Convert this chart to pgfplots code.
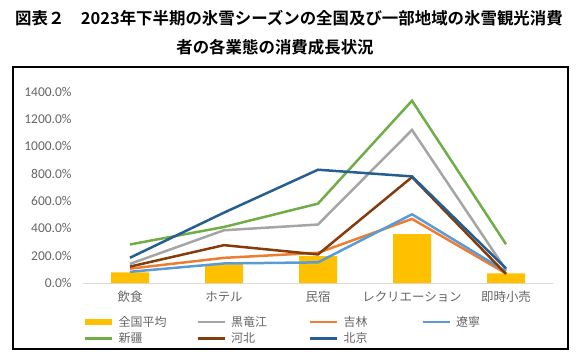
\documentclass[border=0pt]{standalone}
\usepackage{pgfplots}
\pgfplotsset{compat=1.18}
\usepackage{fontspec}
\setmainfont{Carlito}
\newfontfamily\cjk{Noto Sans CJK JP}
\newfontfamily\cjkb{Noto Sans CJK JP Bold}
\definecolor{cYellow}{HTML}{FFC000}
\definecolor{cGray}{HTML}{A5A5A5}
\definecolor{cOrange}{HTML}{ED7D31}
\definecolor{cLBlue}{HTML}{5B9BD5}
\definecolor{cGreen}{HTML}{70AD47}
\definecolor{cBrown}{HTML}{843C0C}
\definecolor{cDBlue}{HTML}{255E91}
\definecolor{tickgray}{HTML}{666666}
\definecolor{basegray}{HTML}{D9D9D9}
\begin{document}
\begin{tikzpicture}[x=1bp,y=1bp]
\path[use as bounding box] (-83,-79) rectangle (494,283);
\begin{axis}[
  at={(0,0)}, anchor=south west,
  scale only axis, width=470bp, height=191.3bp,
  xmin=-0.5, xmax=4.5, ymin=0, ymax=1400,
  clip=false,
  axis line style={draw=none},
  major tick style={draw=none},
  xtick={0,1,2,3,4},
  xticklabels={飲食,ホテル,民宿,レクリエーション,即時小売},
  xticklabel style={font=\cjk\fontsize{12.5}{12.5}\selectfont, text=tickgray, yshift=-5bp},
  ytick={0,200,...,1400},
  yticklabel={\pgfmathprintnumber[fixed,fixed zerofill,precision=1,1000 sep={},assume math mode=true]{\tick}\%},
  yticklabel style={font=\fontsize{13.5}{13.5}\selectfont, text=tickgray, anchor=east, xshift=-8bp},
  legend columns=4,
  legend cell align=left,
  legend style={draw=none, fill=none, at={(0,0)}, anchor=north west, xshift=-2bp, yshift=-29bp,
    font=\cjk\fontsize{12}{12}\selectfont, text=tickgray,
    /tikz/every odd column/.append style={column sep=3bp},
    row sep=1bp},
  legend image code/.code={\draw[#1] (0bp,0bp) -- (27bp,0bp);},
]
\draw[basegray, line width=1bp] (axis cs:-0.5,0) -- (axis cs:4.5,0);
\addplot[ybar, bar width=38bp, fill=cYellow, draw=none,
  legend image code/.code={\fill[cYellow] (0bp,-3bp) rectangle (27bp,3bp);}]
  coordinates {(0,78) (1,136) (2,197) (3,357) (4,71)};
\addlegendentry{\makebox[76bp][l]{全国平均}}
\addplot[cGray, line width=2.5bp] coordinates {(0,140) (1,386) (2,428) (3,1120) (4,95)};
\addlegendentry{\makebox[76bp][l]{黒竜江}}
\addplot[cOrange, line width=2.5bp] coordinates {(0,105) (1,184) (2,221) (3,469) (4,70)};
\addlegendentry{\makebox[76bp][l]{吉林}}
\addplot[cLBlue, line width=2.5bp] coordinates {(0,82) (1,143) (2,151) (3,503) (4,84)};
\addlegendentry{\makebox[76bp][l]{遼寧}}
\addplot[cGreen, line width=2.5bp] coordinates {(0,282) (1,410) (2,581) (3,1334) (4,284)};
\addlegendentry{\makebox[76bp][l]{新疆}}
\addplot[cBrown, line width=2.5bp] coordinates {(0,120) (1,277) (2,209) (3,775) (4,66)};
\addlegendentry{\makebox[76bp][l]{河北}}
\addplot[cDBlue, line width=2.5bp] coordinates {(0,185) (1,515) (2,829) (3,780) (4,107)};
\addlegendentry{\makebox[76bp][l]{北京}}
\end{axis}
\draw[black, line width=1.5bp] (-70,-66) rectangle (485,216);
\node[font=\cjkb\fontsize{16.5}{16.5}\selectfont] at (206,265) {図表２　2023年下半期の氷雪シーズンの全国及び一部地域の氷雪観光消費};
\node[font=\cjkb\fontsize{16.5}{16.5}\selectfont] at (192,236) {者の各業態の消費成長状況};
\end{tikzpicture}
\end{document}
